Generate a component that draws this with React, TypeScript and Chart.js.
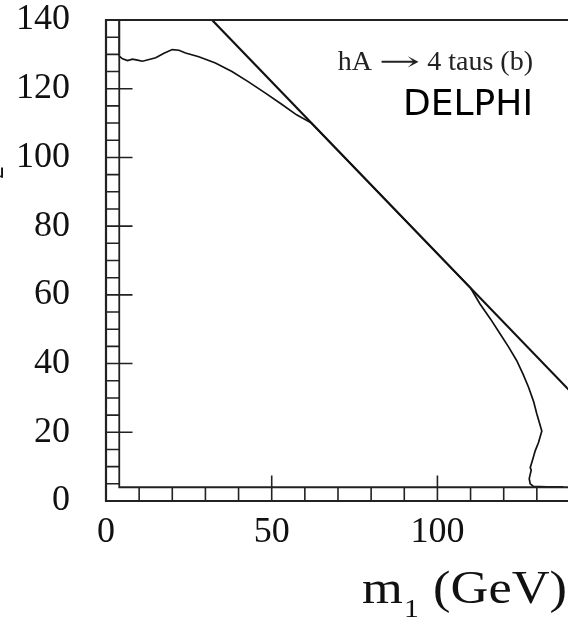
import React, { useEffect, useRef } from "react";
import { Chart, registerables } from "chart.js";

Chart.register(...registerables);

// ---- data ----
const xTicks = [0, 50, 100];
const yTicks = [0, 20, 40, 60, 80, 100, 120, 140];

// kinematic straight line (m1 + m2 ≈ 172)
const lineX = [32, 140];
const lineY = [140, 32];

// exclusion contour
const curveX = [4, 4, 5, 6.5, 8, 9.5, 11, 13, 15, 17.5, 20, 22, 24, 28, 33, 38, 43, 48, 53, 57.5, 62, 110, 112.8, 116, 118.9, 121.5, 123.9, 125.8, 127.5, 129, 130, 131.5, 130.5, 129.5, 128.9, 128, 128.3, 127.7, 128, 128.9, 133, 138];
const curveY = [140, 129.5, 128.7, 128.2, 128.6, 128.3, 128, 128.5, 129, 130.3, 131.4, 131.2, 130.4, 129.3, 127.5, 125, 122, 118.8, 115.5, 112.4, 110, 62, 57.4, 53, 48.7, 44.8, 40.9, 37, 33.1, 29, 25.3, 20.4, 17, 14.6, 12.6, 9.7, 9, 6.5, 5, 4.3, 4.1, 4.1];

// hatched border band
const bandWidth = 4;
const xRungs = [10, 20, 30, 40, 50, 60, 70, 80, 90, 100, 110, 120, 130];
const yRungs = [5, 10, 15, 20, 25, 30, 35, 40, 45, 50, 55, 60, 65, 70, 75, 80, 85, 90, 95, 100, 105, 110, 115, 120, 125, 130, 135];
const xMajor = [50, 100];
const yMajor = [20, 40, 60, 80, 100, 120];

const X_MAX = 139.4;
const Y_MAX = 140;

type Part = { t: string; font: string; dy?: number; gap?: number; sx?: number };

function drawParts(ctx: any, parts: Part[], right: number, base: number, sx = 1) {
  let total = 0;
  const widths: number[] = [];
  for (const p of parts) {
    ctx.font = p.font;
    const w = ctx.measureText(p.t).width * (p.sx || 1) + (p.gap || 0);
    widths.push(w);
    total += w;
  }
  ctx.save();
  ctx.translate(right, base);
  ctx.scale(sx, 1);
  let x = -total;
  parts.forEach((p, i) => {
    ctx.font = p.font;
    ctx.save();
    ctx.translate(x, p.dy || 0);
    ctx.scale(p.sx || 1, 1);
    ctx.fillText(p.t, 0, 0);
    ctx.restore();
    x += widths[i];
  });
  ctx.restore();
}

const framePlugin = {
  id: "frame",
  afterDatasetsDraw(chart: any) {
    const { ctx, chartArea, scales } = chart;
    const xs = scales.x;
    const ys = scales.y;
    const px = (v: number) => xs.getPixelForValue(v);
    const py = (v: number) => ys.getPixelForValue(v);
    ctx.save();
    ctx.strokeStyle = "#222";
    ctx.lineCap = "butt";
    // outer frame
    ctx.lineWidth = 2.2;
    ctx.beginPath();
    ctx.moveTo(chartArea.right + 2, chartArea.top);
    ctx.lineTo(chartArea.left, chartArea.top);
    ctx.lineTo(chartArea.left, chartArea.bottom);
    ctx.lineTo(chartArea.right + 2, chartArea.bottom);
    ctx.stroke();
    // inner band lines
    ctx.lineWidth = 1.8;
    ctx.beginPath();
    ctx.moveTo(px(bandWidth), py(Y_MAX));
    ctx.lineTo(px(bandWidth), py(bandWidth));
    ctx.lineTo(chartArea.right + 2, py(bandWidth));
    ctx.stroke();
    // rungs
    ctx.lineWidth = 1.6;
    ctx.beginPath();
    for (const v of yRungs) {
      ctx.moveTo(px(0), py(v));
      ctx.lineTo(px(bandWidth), py(v));
    }
    for (const v of xRungs) {
      ctx.moveTo(px(v), py(0));
      ctx.lineTo(px(v), py(bandWidth));
    }
    // major ticks
    for (const v of yMajor) {
      ctx.moveTo(px(bandWidth), py(v));
      ctx.lineTo(px(bandWidth * 2), py(v));
    }
    for (const v of xMajor) {
      ctx.moveTo(px(v), py(bandWidth));
      ctx.lineTo(px(v), py(bandWidth * 1.85));
    }
    ctx.stroke();

    // annotations
    ctx.fillStyle = "#222";
    ctx.textBaseline = "alphabetic";
    ctx.textAlign = "left";
    drawParts(
      ctx,
      [
        { t: "hA ", font: '28px "Liberation Serif", serif' },
        { t: "\u2192", font: '26px "DejaVu Serif", serif', sx: 1.9, dy: 0 },
        { t: " 4 taus (b)", font: '28px "Liberation Serif", serif' },
      ],
      533,
      70
    );
    ctx.fillStyle = "#000";
    ctx.textAlign = "right";
    ctx.font = '36px "DejaVu Sans", sans-serif';
    ctx.fillText("DELPHI", 533, 115);

    // x-axis title: m_1 (GeV)
    ctx.fillStyle = "#111";
    ctx.textAlign = "left";
    const mainFont = '46px "Liberation Serif", serif';
    const subFont = '26px "Liberation Serif", serif';
    drawParts(
      ctx,
      [
        { t: "m", font: mainFont, gap: 1 },
        { t: "1", font: subFont, dy: 14, gap: 1 },
        { t: " (GeV)", font: mainFont },
      ],
      567,
      603,
      1.14
    );

    // y-axis title (mostly outside the picture)
    ctx.save();
    ctx.translate(-15, 180);
    ctx.rotate(-Math.PI / 2);
    ctx.font = mainFont;
    const wM2 = ctx.measureText("m").width;
    ctx.fillText("m", -wM2, 0);
    ctx.font = subFont;
    ctx.fillText("2", 1, 18);
    ctx.font = mainFont;
    ctx.fillText(" (GeV)", 16, 0);
    ctx.restore();

    ctx.restore();
  },
};

export default function App() {
  const ref = useRef<HTMLCanvasElement | null>(null);
  useEffect(() => {
    if (!ref.current) return;
    const chart = new Chart(ref.current, {
      type: "scatter",
      data: {
        datasets: [
          {
            label: "limit line",
            data: lineX.map((x, i) => ({ x, y: lineY[i] })),
            showLine: true,
            borderColor: "#111",
            borderWidth: 2.2,
            pointRadius: 0,
            tension: 0,
          },
          {
            label: "excluded contour",
            data: curveX.map((x, i) => ({ x, y: curveY[i] })),
            showLine: true,
            borderColor: "#111",
            borderWidth: 1.7,
            pointRadius: 0,
            tension: 0,
          },
        ],
      },
      options: {
        animation: false,
        responsive: true,
        maintainAspectRatio: false,
        layout: { padding: { top: 20, right: 0, left: 0, bottom: 0 } },
        plugins: { legend: { display: false }, tooltip: { enabled: false } },
        scales: {
          x: {
            type: "linear",
            min: 0,
            max: X_MAX,
            grid: { display: false, drawTicks: false },
            border: { display: false },
            ticks: {
              color: "#111",
              font: { family: '"Liberation Serif", serif', size: 36 },
              padding: 10,
              maxRotation: 0,
            },
            afterBuildTicks: (s: any) => {
              s.ticks = xTicks.map((v) => ({ value: v }));
            },
            afterFit: (s: any) => {
              s.height = 118;
              s.paddingLeft = 0;
              s.paddingRight = 0;
            },
          },
          y: {
            type: "linear",
            min: 0,
            max: Y_MAX,
            grid: { display: false, drawTicks: false },
            border: { display: false },
            ticks: {
              color: "#111",
              font: { family: '"Liberation Serif", serif', size: 36 },
              padding: 36,
            },
            afterBuildTicks: (s: any) => {
              s.ticks = yTicks.map((v) => ({ value: v }));
            },
            afterFit: (s: any) => {
              s.width = 106;
              s.paddingTop = 0;
              s.paddingBottom = 0;
            },
          },
        },
      },
      plugins: [framePlugin],
    });
    return () => chart.destroy();
  }, []);
  return (
    <div style={{ position: "fixed", left: 0, top: 0, width: 568, height: 619, background: "#fff" }}>
      <canvas ref={ref} />
    </div>
  );
}
